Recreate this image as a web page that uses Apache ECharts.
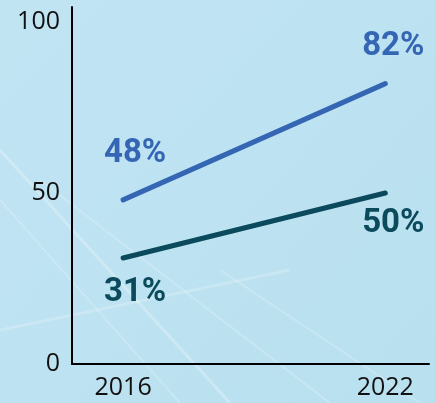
<!DOCTYPE html>
<html>
<head>
<meta charset="utf-8">
<script src="https://cdn.jsdelivr.net/npm/echarts@6/dist/echarts.min.js"></script>
<style>
html,body{margin:0;padding:0;}
#chart{width:435px;height:403px;}
</style>
</head>
<body>
<div id="chart"></div>
<script>
const years = [2016, 2022];
const seriesBlue = [48, 82];
const seriesDark = [31, 50];
const yTicks = [0, 50, 100];
const xTicks = [2016, 2022];

const chart = echarts.init(document.getElementById('chart'));
const labelFont = 'Roboto, sans-serif';
function pts(vals, offsets, color) {
  return vals.map((v, i) => ({
    value: [years[i], v],
    label: {
      show: true, position: 'inside', offset: offsets[i],
      formatter: v + '%', color: color, fontFamily: labelFont,
      fontWeight: 'bold', fontSize: 33
    }
  }));
}
chart.setOption({
  backgroundColor: {
    type: 'linear', x: 0, y: 0, x2: 1, y2: 1,
    colorStops: [
      {offset: 0, color: '#c1e4f3'},
      {offset: 0.5, color: '#bde2f1'},
      {offset: 1, color: '#b8e0ee'}
    ]
  },
  graphic: [
    {type: 'line', silent: true, z: -1, shape: {x1: 0, y1: 150, x2: 230, y2: 403}, style: {stroke: 'rgba(255,255,255,0.25)', lineWidth: 3}},
    {type: 'line', silent: true, z: -1, shape: {x1: 0, y1: 200, x2: 180, y2: 403}, style: {stroke: 'rgba(255,255,255,0.2)', lineWidth: 2}},
    {type: 'line', silent: true, z: -1, shape: {x1: 40, y1: 180, x2: 330, y2: 403}, style: {stroke: 'rgba(255,255,255,0.2)', lineWidth: 2}},
    {type: 'line', silent: true, z: -1, shape: {x1: 0, y1: 330, x2: 290, y2: 270}, style: {stroke: 'rgba(255,255,255,0.2)', lineWidth: 3}},
    {type: 'line', silent: true, z: -1, shape: {x1: 220, y1: 270, x2: 420, y2: 403}, style: {stroke: 'rgba(255,255,255,0.2)', lineWidth: 2}}
  ],
  grid: {left: 72, top: 7, right: 6, bottom: 39, containLabel: false},
  xAxis: {
    type: 'value', min: 2014.83, max: 2023,
    axisLine: {show: true, lineStyle: {color: '#000', width: 2}},
    axisTick: {show: false},
    splitLine: {show: false},
    axisLabel: {
      customValues: xTicks, color: '#111', fontSize: 25,
      fontFamily: '"Open Sans", sans-serif', margin: 11,
      formatter: v => String(v)
    }
  },
  yAxis: {
    type: 'value', min: 0, max: 104.4,
    axisLine: {show: true, lineStyle: {color: '#000', width: 2}},
    axisTick: {show: false},
    splitLine: {show: false},
    axisLabel: {
      customValues: yTicks, color: '#111', fontSize: 25,
      fontFamily: '"Open Sans", sans-serif', margin: 12
    }
  },
  series: [
    {
      type: 'line', data: pts(seriesBlue, [[12, -46], [8, -37]], '#3466b4'),
      symbol: 'circle', symbolSize: 1, showSymbol: true,
      itemStyle: {color: '#3466b4'},
      lineStyle: {color: '#3466b4', width: 5, cap: 'round'},
      animation: false
    },
    {
      type: 'line', data: pts(seriesDark, [[12, 35], [8, 31]], '#0b4a5c'),
      symbol: 'circle', symbolSize: 1, showSymbol: true,
      itemStyle: {color: '#0b4a5c'},
      lineStyle: {color: '#0b4a5c', width: 5, cap: 'round'},
      animation: false
    }
  ]
});
</script>
</body>
</html>
